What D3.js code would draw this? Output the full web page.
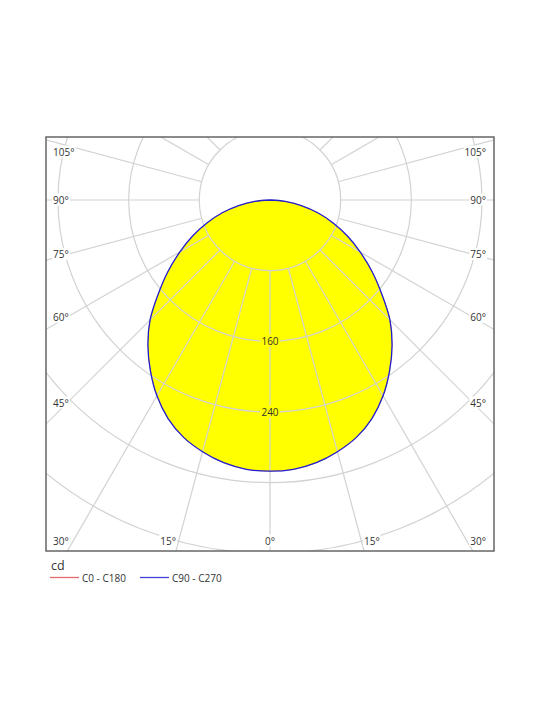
<!DOCTYPE html>
<html>
<head>
<meta charset="utf-8">
<script src="https://cdn.jsdelivr.net/npm/d3@7"></script>
<style>
  html, body { margin: 0; padding: 0; background: #ffffff; }
  svg { display: block; }
  text { font-family: "Open Sans", "Noto Sans", "DejaVu Sans", sans-serif; }
</style>
</head>
<body>
<svg id="chart" width="540" height="720"></svg>
<script>
// ---- data ----
const gammaAngles = [0, 5, 10, 15, 20, 25, 30, 35, 40, 45, 50, 55, 60, 65, 70, 75, 80, 85, 90];
const c0_c180   = [307, 306, 302, 295, 286, 273, 256, 236, 215, 192, 165, 141, 118, 97, 76, 56, 36, 17, 0];
const c90_c270  = [307, 306, 302, 295, 286, 273, 256, 236, 215, 192, 165, 141, 118, 97, 76, 56, 36, 17, 0];
const ringValues = [80, 160, 240, 320, 400, 480];
const ringLabels = [160, 240];
const angleTickValues = [0, 15, 30, 45, 60, 75, 90, 105];
const seriesNames = ["C0 - C180", "C90 - C270"];
const unitLabel = "cd";

// ---- layout ----
const svg = d3.select("#chart");
const frame = { left: 46, top: 137, right: 494, bottom: 551 };
const cx = 270, cy = 200;
const rScale = d3.scaleLinear().domain([0, 480]).range([0, 424]);
const gridColor = "#d2d2d2";
const fillColor = "#ffff00";
const textColor = "#333333";
const colors = ["#e05050", "#2020d0"];
const fontSize = 10;

const defs = svg.append("defs");
defs.append("clipPath").attr("id", "frameClip")
  .append("rect")
  .attr("x", frame.left).attr("y", frame.top)
  .attr("width", frame.right - frame.left).attr("height", frame.bottom - frame.top);

const plot = svg.append("g").attr("clip-path", "url(#frameClip)");
const g = plot.append("g").attr("transform", `translate(${cx},${cy})`);

// build full symmetric curves (-90..90)
function fullCurve(vals) {
  const pts = [];
  for (let i = gammaAngles.length - 1; i >= 0; i--) pts.push({ a: -gammaAngles[i], v: vals[i] });
  for (let i = 1; i < gammaAngles.length; i++) pts.push({ a: gammaAngles[i], v: vals[i] });
  return pts;
}
const rad = d => d * Math.PI / 180;
const line = d3.lineRadial()
  .angle(d => Math.PI - rad(d.a))
  .radius(d => rScale(d.v))
  .curve(d3.curveCatmullRom);

const curves = [fullCurve(c0_c180), fullCurve(c90_c270)];

// fill
g.append("path")
  .attr("d", line(curves[1]) + "Z")
  .attr("fill", fillColor)
  .attr("stroke", "none");

// grid circles
g.selectAll("circle.ring").data(ringValues).join("circle")
  .attr("class", "ring")
  .attr("r", d => rScale(d))
  .attr("fill", "none")
  .attr("stroke", gridColor)
  .attr("stroke-width", 1.2);

// radial lines every 15 deg starting at first ring
const radials = d3.range(0, 360, 15);
g.selectAll("line.radial").data(radials).join("line")
  .attr("class", "radial")
  .attr("x1", d => rScale(ringValues[0]) * Math.sin(rad(d)))
  .attr("y1", d => rScale(ringValues[0]) * Math.cos(rad(d)))
  .attr("x2", d => 700 * Math.sin(rad(d)))
  .attr("y2", d => 700 * Math.cos(rad(d)))
  .attr("stroke", gridColor)
  .attr("stroke-width", 1.2);

// ring labels
ringLabels.forEach(v => {
  const lg = g.append("g").attr("transform", `translate(0,${rScale(v)})`);
  const t = lg.append("text")
    .attr("text-anchor", "middle").attr("dy", "0.35em")
    .attr("font-size", fontSize).attr("fill", textColor).text(v);
  const bb = t.node().getBBox();
  lg.insert("rect", "text")
    .attr("x", bb.x - 1).attr("y", bb.y + 1)
    .attr("width", bb.width + 2).attr("height", bb.height - 2)
    .attr("fill", fillColor);
});

// curve outlines (C0-C180 coincides with C90-C270 and lies beneath it)
curves.forEach((c, i) => {
  g.append("path")
    .attr("d", line(c))
    .attr("fill", "none")
    .attr("stroke", colors[i])
    .attr("stroke-width", i === 0 ? 0.4 : 1.3);
});

// angle labels
const labelLayer = svg.append("g");
angleTickValues.forEach(th => {
  [-1, 1].forEach(side => {
    if (th === 0 && side === 1) return;
    const s = Math.sin(rad(th)), c = Math.cos(rad(th));
    const tx = s > 1e-9 ? (side > 0 ? frame.right - cx : cx - frame.left) / s : Infinity;
    const ty = c > 1e-9 ? (frame.bottom - cy) / c : (c < -1e-9 ? (frame.top - cy) / c : Infinity);
    let x, y, anchor;
    if (ty <= tx) {
      // bottom edge
      x = cx + side * s * ty;
      y = frame.bottom - 10;
      anchor = th === 0 ? "middle" : (side < 0 ? "end" : "start");
    } else {
      const dxAbs = cx - frame.left - 21;
      x = side < 0 ? frame.left + 6 : frame.right - 6;
      y = cy + dxAbs * c / s;
      y = Math.max(frame.top + 15, Math.min(frame.bottom - 20, y));
      anchor = side < 0 ? "start" : "end";
    }
    const lg = labelLayer.append("g");
    const t = lg.append("text")
      .attr("x", x).attr("y", y).attr("dy", "0.35em")
      .attr("text-anchor", anchor)
      .attr("font-size", fontSize).attr("fill", textColor)
      .text(th + "°");
    let bb = t.node().getBBox();
    // keep label inside the frame
    const minX = frame.left + 7, maxX = frame.right - 8;
    let shift = 0;
    if (bb.x < minX) shift = minX - bb.x;
    if (bb.x + bb.width > maxX) shift = maxX - (bb.x + bb.width);
    if (shift) { t.attr("x", x + shift); bb = t.node().getBBox(); }
    lg.insert("rect", "text")
      .attr("x", bb.x - 1).attr("y", bb.y + 1)
      .attr("width", bb.width + 2).attr("height", bb.height - 2)
      .attr("fill", "#ffffff");
  });
});

// frame
svg.append("rect")
  .attr("x", frame.left).attr("y", frame.top)
  .attr("width", frame.right - frame.left).attr("height", frame.bottom - frame.top)
  .attr("fill", "none").attr("stroke", "#666666").attr("stroke-width", 1.5);

// legend
svg.append("text")
  .attr("x", 51).attr("y", 570)
  .attr("font-size", 12.5).attr("fill", textColor)
  .text(unitLabel);
const legendX = [50, 140];
seriesNames.forEach((name, i) => {
  svg.append("line")
    .attr("x1", legendX[i]).attr("x2", legendX[i] + 29)
    .attr("y1", 577.5).attr("y2", 577.5)
    .attr("stroke", colors[i]).attr("stroke-width", 1.3)
    .attr("stroke-opacity", 0.85);
  svg.append("text")
    .attr("x", legendX[i] + 32).attr("y", 578).attr("dy", "0.35em")
    .attr("font-size", fontSize).attr("fill", textColor)
    .text(name);
});
</script>
</body>
</html>
